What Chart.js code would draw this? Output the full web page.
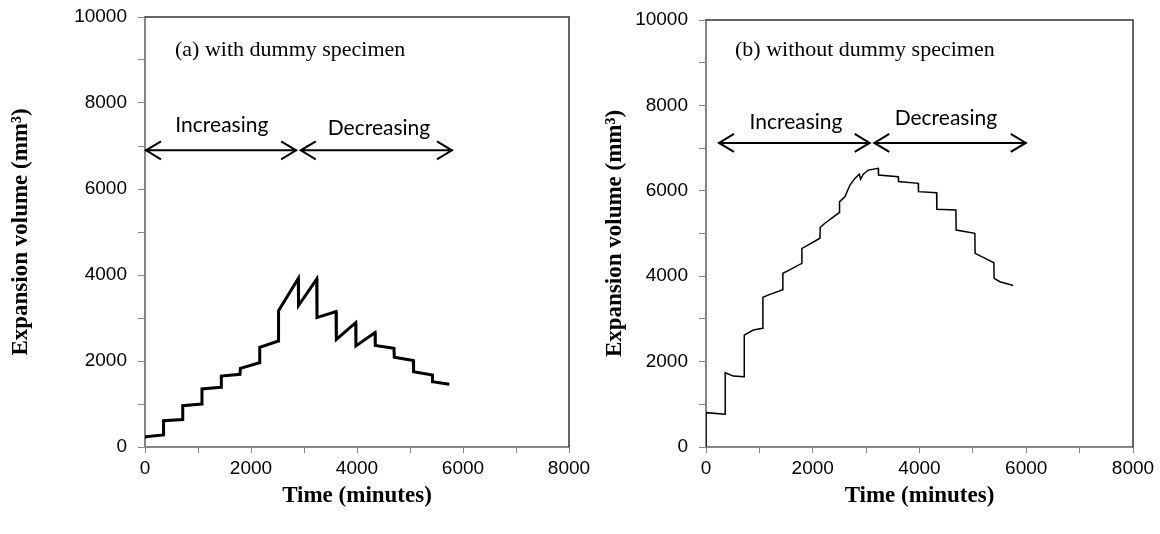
<!DOCTYPE html>
<html>
<head>
<meta charset="utf-8">
<script src="https://cdn.jsdelivr.net/npm/chart.js@4.4.0/dist/chart.umd.min.js"></script>
<style>
  html, body { margin: 0; padding: 0; background: #fff; }
  #wrap { position: relative; width: 1160px; height: 534px; overflow: hidden; }
  .panel { position: absolute; top: 0; height: 534px; }
</style>
</head>
<body>
<div id="wrap">
  <div class="panel" style="left:0;width:610px"><canvas id="chartA" width="610" height="534"></canvas></div>
  <div class="panel" style="left:580px;width:580px"><canvas id="chartB" width="580" height="534"></canvas></div>
</div>
<script>
// ---- data ----
// (a) with dummy specimen
const timeA = [0, 0, 350, 350, 712, 712, 1070, 1075, 1434, 1440, 1792, 1800, 2157, 2165,
  2515, 2520, 2892, 2897, 3240, 3245, 3604, 3610, 3975, 3980, 4340, 4345, 4698, 4703,
  5062, 5068, 5421, 5425, 5742];
const volumeA = [190, 240, 280, 610, 640, 960, 1000, 1350, 1390, 1650, 1690, 1830, 1960, 2320,
  2465, 3170, 3920, 3290, 3905, 3010, 3150, 2500, 2890, 2350, 2660, 2360, 2295, 2085,
  2010, 1750, 1675, 1520, 1458];

// (b) without dummy specimen
const timeB = [0, 0, 356, 360, 512, 712, 717, 886, 1061, 1066, 1199, 1436, 1440, 1542,
  1792, 1797, 1885, 2135, 2140, 2228, 2497, 2502, 2603, 2697, 2790, 2871, 2896, 2946,
  3040, 3227, 3232, 3601, 3606, 3976, 3981, 4320, 4325, 4682, 4687, 5037, 5042, 5193,
  5393, 5398, 5506, 5755];
const volumeB = [0, 805, 765, 1740, 1660, 1645, 2620, 2740, 2780, 3505, 3575, 3680, 4070, 4130,
  4300, 4650, 4710, 4890, 5145, 5240, 5490, 5745, 5860, 6135, 6290, 6390, 6270, 6390,
  6485, 6525, 6370, 6330, 6215, 6175, 5980, 5955, 5565, 5550, 5080, 5005, 4535, 4440,
  4315, 3950, 3870, 3780];

const xTicksMax = 8000;
const yTicksMax = 10000;

const TICK_FONT = { family: "'Liberation Sans', Arial, sans-serif", size: 19 };
const TITLE_FONT = { family: "'Liberation Serif', 'Times New Roman', serif", size: 23, weight: 'bold' };
const AXIS_GREY = '#868686';

// frame, phase arrows and in-plot labels
const panelDecor = {
    id: 'panelDecor',
    afterDatasetsDraw(chart, args, opts) {
        const { ctx, chartArea: a, scales: { x, y } } = chart;
        ctx.save();

        // top + right edges of the plot box
        ctx.strokeStyle = '#333333';
        ctx.lineWidth = 1.5;
        ctx.beginPath();
        ctx.moveTo(a.left, a.top);
        ctx.lineTo(a.right, a.top);
        ctx.lineTo(a.right, a.bottom);
        ctx.stroke();

        // double-headed arrows
        ctx.strokeStyle = '#000';
        ctx.lineWidth = 2;
        ctx.lineJoin = 'miter';
        opts.arrows.forEach(([x0, x1, yv]) => {
            const p0 = x.getPixelForValue(x0);
            const p1 = x.getPixelForValue(x1);
            const py = y.getPixelForValue(yv);
            ctx.beginPath();
            ctx.moveTo(p0, py); ctx.lineTo(p1, py);
            ctx.moveTo(p0 + 16, py - 9); ctx.lineTo(p0 + 1, py); ctx.lineTo(p0 + 16, py + 9);
            ctx.moveTo(p1 - 16, py - 9); ctx.lineTo(p1 - 1, py); ctx.lineTo(p1 - 16, py + 9);
            ctx.stroke();
        });

        // panel caption
        ctx.fillStyle = '#000';
        ctx.textBaseline = 'middle';
        ctx.textAlign = 'left';
        ctx.font = "22px 'Liberation Serif', 'Times New Roman', serif";
        ctx.fillText(opts.caption.text, x.getPixelForValue(opts.caption.x), y.getPixelForValue(opts.caption.y));

        // phase words
        ctx.textAlign = 'center';
        ctx.font = "21px Lato, 'Open Sans', sans-serif";
        opts.words.forEach(w => {
            ctx.fillText(w.text, x.getPixelForValue(w.x), y.getPixelForValue(w.y));
        });
        ctx.restore();
    }
};

function makePanel(canvasId, times, volumes, lineWidth, box, decor) {
    const points = times.map((t, i) => ({ x: t, y: volumes[i] }));
    return new Chart(document.getElementById(canvasId), {
        type: 'scatter',
        data: {
            datasets: [{
                data: points,
                showLine: true,
                borderColor: '#000',
                borderWidth: lineWidth,
                pointRadius: 0,
                tension: 0
            }]
        },
        options: {
            responsive: false,
            animation: false,
            layout: { padding: { top: box.top, right: box.right, bottom: 0, left: 0 } },
            plugins: {
                legend: { display: false },
                tooltip: { enabled: false },
                panelDecor: decor
            },
            scales: {
                x: {
                    type: 'linear',
                    min: 0,
                    max: xTicksMax,
                    afterFit(scale) {
                        scale.height = 87;
                        scale.paddingLeft = 0;
                        scale.paddingRight = 0;
                    },
                    ticks: {
                        stepSize: 1000,
                        autoSkip: false,
                        maxRotation: 0,
                        color: '#000',
                        font: TICK_FONT,
                        padding: 4,
                        callback: v => (v % 2000 === 0 ? String(v) : '')
                    },
                    grid: { drawOnChartArea: false, drawTicks: true, tickLength: 6, color: AXIS_GREY },
                    border: { display: true, color: AXIS_GREY, width: 2 },
                    title: {
                        display: true,
                        text: 'Time (minutes)',
                        color: '#000',
                        font: TITLE_FONT,
                        padding: { top: 0, bottom: 24 }
                    }
                },
                y: {
                    type: 'linear',
                    min: 0,
                    max: yTicksMax,
                    afterFit(scale) {
                        scale.width = box.yWidth;
                        scale.paddingTop = 0;
                        scale.paddingBottom = 0;
                    },
                    ticks: {
                        stepSize: 1000,
                        autoSkip: false,
                        color: '#000',
                        font: TICK_FONT,
                        padding: 11,
                        callback: v => (v % 2000 === 0 ? String(v) : '')
                    },
                    grid: { drawOnChartArea: false, drawTicks: true, tickLength: 7, color: AXIS_GREY },
                    border: { display: true, color: AXIS_GREY, width: 2 },
                    title: {
                        display: true,
                        text: 'Expansion volume (mm\u00B3)',
                        color: '#000',
                        font: TITLE_FONT,
                        padding: { top: box.titlePad, bottom: 0 }
                    }
                }
            }
        },
        plugins: [panelDecor]
    });
}

makePanel('chartA', timeA, volumeA, 3,
    { top: 17, right: 41, yWidth: 145, titlePad: 7 },
    {
        caption: { text: '(a) with dummy specimen', x: 566, y: 9230 },
        arrows: [[0, 2870, 6900], [2920, 5810, 6900]],
        words: [
            { text: 'Increasing', x: 1450, y: 7480 },
            { text: 'Decreasing', x: 4415, y: 7410 }
        ]
    });

makePanel('chartB', timeB, volumeB, 1.5,
    { top: 20, right: 27, yWidth: 126, titlePad: 21 },
    {
        caption: { text: '(b) without dummy specimen', x: 543, y: 9300 },
        arrows: [[225, 3085, 7120], [3135, 6010, 7120]],
        words: [
            { text: 'Increasing', x: 1685, y: 7610 },
            { text: 'Decreasing', x: 4494, y: 7690 }
        ]
    });
</script>
</body>
</html>
